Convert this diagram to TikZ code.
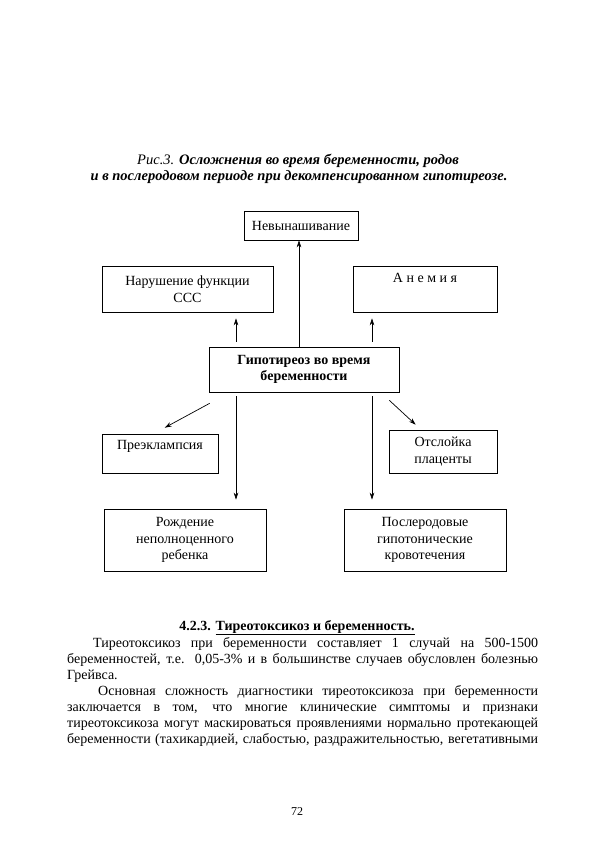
\documentclass[tikz,border=0pt]{standalone}
\usepackage{fontspec}
\setmainfont{Liberation Serif}
\usetikzlibrary{arrows.meta}
\newcommand\myul[1]{\vtop{\hbox{#1}\kern1pt\hrule height 0.6pt}}
\begin{document}
\begin{tikzpicture}[x=1pt,y=-1pt,
  box/.style={draw, line width=0.6pt, inner sep=0pt, align=center,
    font=\fontsize{14}{16.5}\selectfont},
  arr/.style={line width=0.7pt, -{Stealth[length=7pt,width=4.5pt]}},
  body/.style={anchor=base west, inner sep=0pt, font=\fontsize{14}{16}\selectfont},
  captxt/.style={anchor=base, inner sep=0pt, font=\fontsize{14.5}{16}\selectfont\itshape}]
\useasboundingbox[fill=white] (0,0) rectangle (594,841);
% caption
\node[captxt] (cap1) at (298,164) {Рис.3. \textbf{Осложнения во время беременности, родов}};
\node[captxt] (cap2) at (299,180) {\textbf{и в послеродовом периоде при декомпенсированном гипотиреозе.}};
% boxes
\node[box, minimum width=114pt, minimum height=29pt] (nev) at (301,225.5) {Невынашивание};
\node[box, minimum width=171pt, minimum height=46pt] (ssc) at (187.5,289) {Нарушение функции\\ССС};
\node[box, minimum width=144pt, minimum height=46pt] (anem) at (425,289) {А н е м и я\\\strut};
\node[box, minimum width=190pt, minimum height=45pt, font=\fontsize{14}{16.5}\selectfont\bfseries] (c) at (304,369.5) {Гипотиреоз во время\\беременности};
\node[box, minimum width=116pt, minimum height=39pt] (pre) at (160,453.5) {Преэклампсия\\[-4pt]\strut};
\node[box, minimum width=108pt, minimum height=43pt] (ots) at (443,451.5) {Отслойка\\плаценты};
\node[box, minimum width=162pt, minimum height=62pt] (rod) at (185,540) {Рождение\\неполноценного\\ребенка};
\node[box, minimum width=162pt, minimum height=62pt] (pos) at (425,540) {Послеродовые\\гипотонические\\кровотечения};
% columns
\coordinate (colL) at (236,0);
\coordinate (colM) at (299,0);
\coordinate (colR) at (372,0);
% arrows
\draw[arr] (c.north -| colM) -- (nev.south -| colM);
\draw[arr, shorten <=5pt, shorten >=6pt] (c.north -| colL) -- (ssc.south -| colL);
\draw[arr, shorten <=5pt, shorten >=6pt] (c.north -| colR) -- (anem.south -| colR);
\draw[arr, shorten <=4pt, shorten >=9pt] (c.south -| colL) -- (rod.north -| colL);
\draw[arr, shorten <=4pt, shorten >=9pt] (c.south -| colR) -- (pos.north -| colR);
\draw[arr] ([shift={(1,11)}]c.south west) -- ([shift={(63,-6)}]pre.north west);
\draw[arr] ([shift={(-10,8)}]c.south east) -- ([shift={(27,-5)}]ots.north west);
% heading
\node[anchor=base, inner sep=0pt, font=\fontsize{14}{16}\selectfont\bfseries] (head) at (297,630) {4.2.3. \myul{Тиреотоксикоз и беременность.}};
% body text
\node[body] (l1) at (93,647) {\makebox[445pt][s]{Тиреотоксикоз при беременности составляет 1 случай на 500-1500}};
\node[body] (l2) at (67,663) {\makebox[471pt][s]{беременностей, т.е. 0,05-3\% и в большинстве случаев обусловлен болезнью}};
\node[body] (l3) at (67,679) {Грейвса.};
\node[body] (l4) at (98,695) {\makebox[440pt][s]{Основная сложность диагностики тиреотоксикоза при беременности}};
\node[body] (l5) at (67,711) {\makebox[471pt][s]{заключается в том, что многие клинические симптомы и признаки}};
\node[body] (l6) at (67,727) {\makebox[471pt][s]{тиреотоксикоза могут маскироваться проявлениями нормально протекающей}};
\node[body] (l7) at (67,743) {\makebox[471pt][s]{беременности (тахикардией, слабостью, раздражительностью, вегетативными}};
% page number
\node[anchor=base, inner sep=0pt, font=\fontsize{12}{14}\selectfont] (pn) at (297,815) {72};
\end{tikzpicture}
\end{document}
